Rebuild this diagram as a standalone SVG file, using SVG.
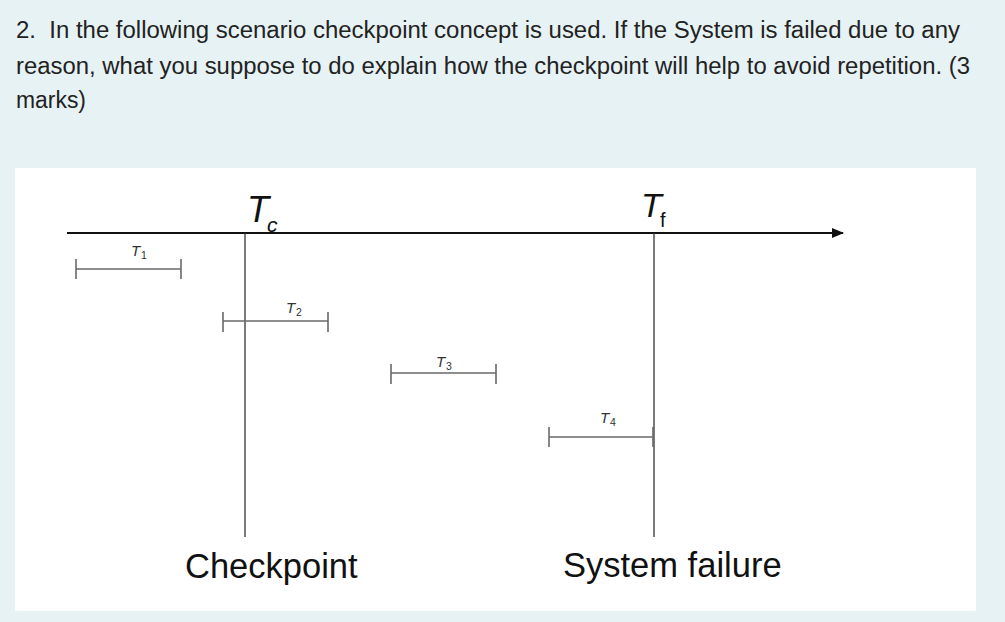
<svg xmlns="http://www.w3.org/2000/svg" width="1005" height="622" viewBox="0 0 1005 622">
<style>
.q{font-family:"Liberation Sans",Arial,sans-serif;font-size:23.5px;fill:#222}
.big{font-family:"Liberation Sans",Arial,sans-serif;font-size:34.5px;fill:#111}
.lab{font-family:"Liberation Sans",Arial,sans-serif;font-style:italic;font-size:15px;fill:#333}
.sub{font-family:"Liberation Sans",Arial,sans-serif;font-size:10.5px;fill:#333}
.axis{stroke:#111;stroke-width:2;fill:none}
.vline{stroke:#333;stroke-width:1.3;fill:none}
.bar{stroke:#6a6a6a;stroke-width:1.6;fill:none}
</style>
<defs>
<marker id="arr" markerWidth="12" markerHeight="10" refX="11" refY="5" orient="auto" markerUnits="userSpaceOnUse">
<path d="M0,0 L12,5 L0,10 Z" fill="#111"/>
</marker>
</defs>
<rect x="0" y="0" width="1005" height="622" fill="#e7f2f5"/>
<rect x="15" y="168" width="961" height="443" fill="#ffffff"/>
<g id="question">
<text class="q" x="16" y="38" textLength="944" lengthAdjust="spacingAndGlyphs">2.&#160; In the following scenario checkpoint concept is used. If the System is failed due to any</text>
<text class="q" x="16" y="74" textLength="954" lengthAdjust="spacingAndGlyphs">reason, what you suppose to do explain how the checkpoint will help to avoid repetition. (3</text>
<text class="q" x="16" y="108" textLength="70" lengthAdjust="spacingAndGlyphs">marks)</text>
</g>
<g id="connectors">
<line class="axis" x1="67" y1="233" x2="843" y2="233" marker-end="url(#arr)"/>
<line class="vline" x1="245" y1="233" x2="245" y2="537"/>
<line class="vline" x1="654" y1="233" x2="654" y2="537"/>
</g>
<g id="Tc">
<text x="247" y="222" font-family="'Liberation Sans',Arial,sans-serif" font-style="italic" font-size="36" fill="#111">T</text>
<text x="267" y="232" font-family="'Liberation Sans',Arial,sans-serif" font-style="italic" font-size="21" fill="#111">c</text>
</g>
<g id="Tf">
<text x="641" y="217" font-family="'Liberation Sans',Arial,sans-serif" font-style="italic" font-size="34" fill="#111">T</text>
<text x="660" y="227" font-family="'Liberation Sans',Arial,sans-serif" font-size="20" fill="#111">f</text>
</g>
<g id="T1">
<path class="bar" d="M76,269 H181 M76,259 V279 M181,259 V279"/>
<text class="lab" x="131" y="256">T</text><text class="sub" x="141" y="259">1</text>
</g>
<g id="T2">
<path class="bar" d="M223,321 H328 M223,312 V332 M328,312 V332"/>
<text class="lab" x="286" y="313">T</text><text class="sub" x="296" y="316">2</text>
</g>
<g id="T3">
<path class="bar" d="M391,373 H496 M391,364 V384 M496,364 V384"/>
<text class="lab" x="436" y="367">T</text><text class="sub" x="446" y="370">3</text>
</g>
<g id="T4">
<path class="bar" d="M549,437 H653 M549,427 V447 M653,427 V447"/>
<text class="lab" x="600" y="423">T</text><text class="sub" x="610" y="426">4</text>
</g>
<g id="checkpoint">
<text class="big" x="185" y="578">Checkpoint</text>
</g>
<g id="failure">
<text class="big" x="563" y="577">System failure</text>
</g>
</svg>
